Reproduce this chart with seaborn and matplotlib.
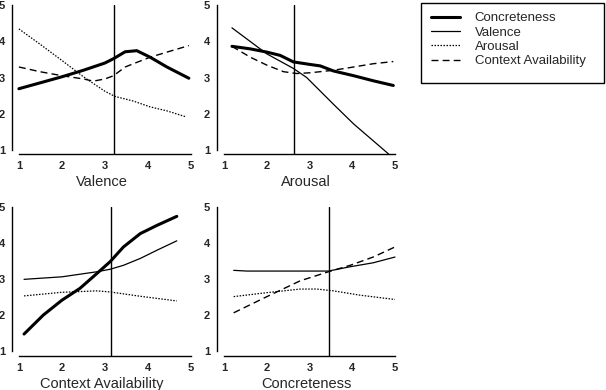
import matplotlib
matplotlib.use("Agg")
import matplotlib.pyplot as plt
from matplotlib.lines import Line2D
from matplotlib.patches import Rectangle
import seaborn as sns
import pandas as pd

# ---------- data ----------
# Panel 1: x = Valence
val_x_conc = [1.0, 2.0, 2.5, 3.0, 3.2, 3.47, 3.74, 4.05, 4.44, 4.95]
val_y_conc = [2.69, 3.02, 3.2, 3.40, 3.52, 3.71, 3.74, 3.56, 3.29, 2.98]
val_x_arou = [1.0, 1.49, 2.0, 2.5, 3.0, 3.23, 3.66, 4.05, 4.44, 4.87]
val_y_arou = [4.34, 3.92, 3.47, 3.02, 2.62, 2.48, 2.35, 2.19, 2.08, 1.92]
val_x_ctx = [1.0, 1.49, 2.0, 2.5, 2.73, 3.0, 3.2, 3.47, 3.66, 4.05, 4.44, 4.95]
val_y_ctx = [3.29, 3.16, 3.05, 2.96, 2.90, 2.96, 3.05, 3.29, 3.38, 3.56, 3.70, 3.88]
val_mean = 3.2

# Panel 2: x = Arousal
aro_x_conc = [1.18, 1.61, 2.0, 2.31, 2.62, 3.01, 3.25, 3.56, 4.03, 4.49, 4.96]
aro_y_conc = [3.86, 3.79, 3.70, 3.61, 3.43, 3.36, 3.32, 3.18, 3.05, 2.91, 2.78]
aro_x_val = [1.18, 2.0, 2.62, 2.93, 3.56, 4.03, 4.85]
aro_y_val = [4.37, 3.65, 3.25, 3.0, 2.26, 1.72, 0.89]
aro_x_ctx = [1.18, 1.61, 2.0, 2.39, 2.7, 3.01, 3.56, 4.03, 4.49, 4.96]
aro_y_ctx = [3.86, 3.56, 3.34, 3.16, 3.11, 3.13, 3.20, 3.29, 3.38, 3.44]
aro_mean = 2.64

# Panel 3: x = Context Availability
ctx_x_conc = [1.12, 1.57, 2.0, 2.42, 2.81, 3.12, 3.43, 3.82, 4.21, 4.67]
ctx_y_conc = [1.47, 2.0, 2.41, 2.74, 3.15, 3.48, 3.89, 4.26, 4.49, 4.74]
ctx_x_val = [1.12, 2.0, 2.81, 3.12, 3.43, 3.82, 4.21, 4.67]
ctx_y_val = [2.99, 3.06, 3.20, 3.27, 3.38, 3.57, 3.80, 4.06]
ctx_x_arou = [1.12, 2.0, 2.81, 3.12, 3.82, 4.67]
ctx_y_arou = [2.53, 2.63, 2.67, 2.64, 2.52, 2.39]
ctx_mean = 3.14

# Panel 4: x = Concreteness
con_x_val = [1.22, 1.53, 2.39, 3.44, 3.95, 4.49, 5.0]
con_y_val = [3.24, 3.22, 3.22, 3.22, 3.34, 3.45, 3.61]
con_x_arou = [1.22, 2.0, 2.78, 3.17, 3.56, 4.18, 5.0]
con_y_arou = [2.51, 2.62, 2.72, 2.72, 2.67, 2.55, 2.43]
con_x_ctx = [1.22, 2.0, 2.78, 3.44, 3.95, 4.49, 5.0]
con_y_ctx = [2.06, 2.51, 2.95, 3.20, 3.38, 3.61, 3.89]
con_mean = 3.46

styles = {
    "Concreteness": dict(lw=2.2, ls="-"),
    "Valence": dict(lw=0.9, ls="-"),
    "Arousal": dict(lw=0.9, ls=(0, (1.2, 1.2))),
    "Context Availability": dict(lw=1.0, ls=(0, (5, 3))),
}

panels = [
    ("Valence", val_mean, [("Concreteness", val_x_conc, val_y_conc),
                           ("Arousal", val_x_arou, val_y_arou),
                           ("Context Availability", val_x_ctx, val_y_ctx)]),
    ("Arousal", aro_mean, [("Concreteness", aro_x_conc, aro_y_conc),
                           ("Valence", aro_x_val, aro_y_val),
                           ("Context Availability", aro_x_ctx, aro_y_ctx)]),
    ("Context Availability", ctx_mean, [("Concreteness", ctx_x_conc, ctx_y_conc),
                                        ("Valence", ctx_x_val, ctx_y_val),
                                        ("Arousal", ctx_x_arou, ctx_y_arou)]),
    ("Concreteness", con_mean, [("Valence", con_x_val, con_y_val),
                                ("Arousal", con_x_arou, con_y_arou),
                                ("Context Availability", con_x_ctx, con_y_ctx)]),
]

sns.set_style("white")
plt.rcParams["font.family"] = ["Liberation Sans", "DejaVu Sans"]

W, H = 606, 390
fig = plt.figure(figsize=(W / 100, H / 100), dpi=100)

# axes boxes in pixels: left, top, right, bottom
boxes = [(12, 5, 191, 154), (217, 5, 395, 154),
         (12, 207, 191, 356), (217, 207, 395, 356)]
ybot = [0.89, 0.89, 0.86, 0.86]
xleft = [0.84, 0.83, 0.84, 0.83]

for (xlabel, mean, series), (l, t, r, b), yb, xl in zip(panels, boxes, ybot, xleft):
    ax = fig.add_axes([l / W, 1 - b / H, (r - l) / W, (b - t) / H])
    for name, xs, ys in series:
        df = pd.DataFrame({"x": xs, "y": ys})
        sns.lineplot(data=df, x="x", y="y", ax=ax, color="black",
                     linewidth=styles[name]["lw"], linestyle=styles[name]["ls"],
                     clip_on=False, solid_joinstyle="round",
                     solid_capstyle="round")
    ax.axvline(mean, color="black", lw=1.0)
    ax.set_xlim(xl, 5.0)
    ax.set_ylim(yb, 5.0)
    ax.set_xticks([1, 2, 3, 4, 5])
    ax.set_yticks([1, 2, 3, 4, 5])
    ax.spines["top"].set_visible(False)
    ax.spines["right"].set_visible(False)
    ax.spines["bottom"].set_bounds(1, 5)
    ax.spines["left"].set_bounds(1, 5)
    for s in ("left", "bottom"):
        ax.spines[s].set_color("black")
        ax.spines[s].set_linewidth(1.0)
    ax.tick_params(axis="both", direction="out", length=3, width=1,
                   labelsize=8, pad=2, color="black")
    for lab in ax.get_xticklabels() + ax.get_yticklabels():
        lab.set_fontweight("bold")
    ax.set_xlabel(xlabel, fontsize=10.5, labelpad=3)
    ax.set_ylabel("")
    ax.patch.set_alpha(0)

# legend: entries without frame, box drawn as a figure rectangle
handles = [Line2D([], [], color="black", lw=styles[n]["lw"], ls=styles[n]["ls"])
           for n in styles]
fig.legend(handles, list(styles), loc="upper left",
           bbox_to_anchor=(431 / W, 1 - 12 / H), fontsize=9.5,
           frameon=False, handlelength=2.2, borderpad=0,
           labelspacing=0.16, handletextpad=1.1, borderaxespad=0)
fig.patches.append(Rectangle((421 / W, 1 - 83 / H), 183 / W, 80 / H,
                             transform=fig.transFigure, fill=False,
                             edgecolor="black", linewidth=1.0))

fig.savefig("out.png", dpi=100)
